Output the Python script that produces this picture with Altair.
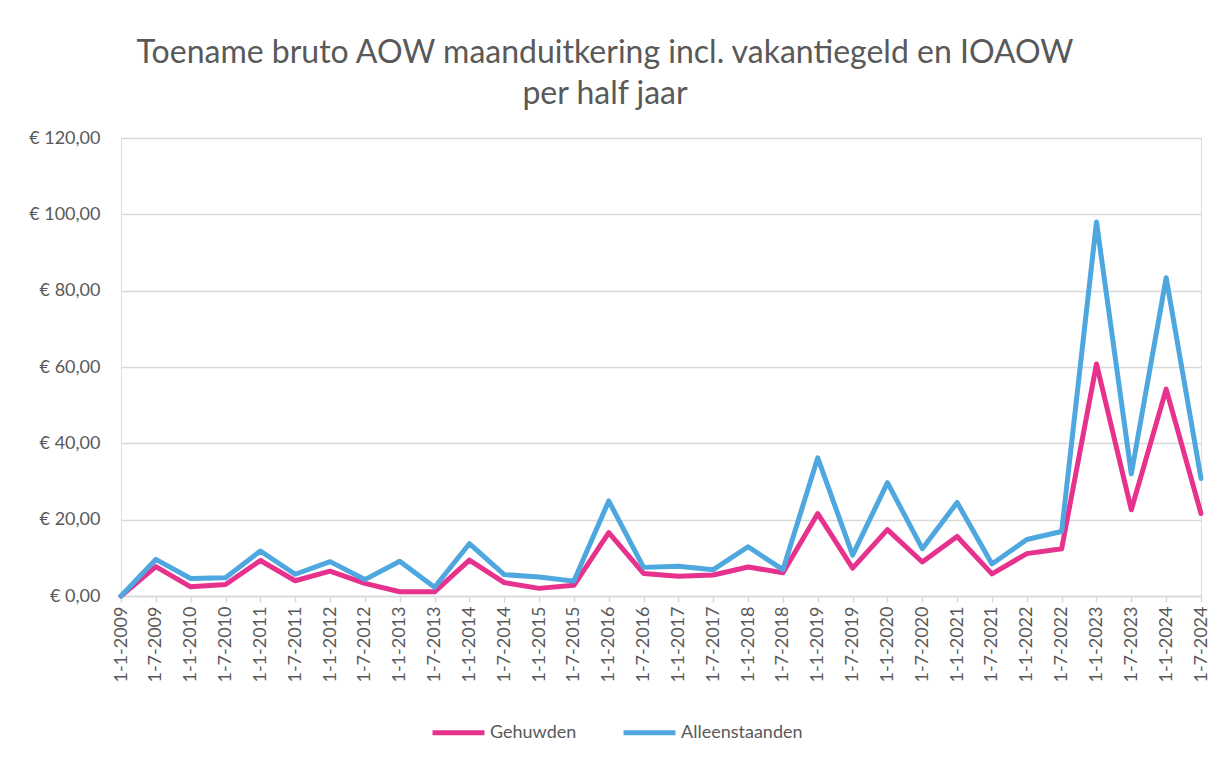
import altair as alt
import pandas as pd

dates = [
    "1-1-2009", "1-7-2009", "1-1-2010", "1-7-2010", "1-1-2011", "1-7-2011",
    "1-1-2012", "1-7-2012", "1-1-2013", "1-7-2013", "1-1-2014", "1-7-2014",
    "1-1-2015", "1-7-2015", "1-1-2016", "1-7-2016", "1-1-2017", "1-7-2017",
    "1-1-2018", "1-7-2018", "1-1-2019", "1-7-2019", "1-1-2020", "1-7-2020",
    "1-1-2021", "1-7-2021", "1-1-2022", "1-7-2022", "1-1-2023", "1-7-2023",
    "1-1-2024", "1-7-2024",
]
gehuwden = [
    0.0, 7.7, 2.4, 3.0, 9.3, 4.0, 6.5, 3.3, 1.1, 1.1, 9.4, 3.5,
    2.0, 2.8, 16.6, 5.9, 5.2, 5.5, 7.6, 6.1, 21.6, 7.3, 17.4, 8.9,
    15.6, 5.8, 11.1, 12.4, 60.8, 22.6, 54.2, 21.6,
]
alleenstaanden = [
    0.0, 9.6, 4.6, 4.8, 11.8, 5.7, 9.0, 4.3, 9.1, 2.3, 13.7, 5.6,
    5.0, 3.9, 24.9, 7.5, 7.8, 6.9, 12.9, 6.9, 36.2, 10.7, 29.7, 12.4,
    24.5, 8.4, 14.8, 16.9, 98.0, 32.0, 83.4, 30.8,
]
series = ["Gehuwden", "Alleenstaanden"]
colors = ["#E6318D", "#4EA7DE"]

rows = []
for d, g, a in zip(dates, gehuwden, alleenstaanden):
    rows.append({"datum": d, "reeks": series[0], "waarde": g})
    rows.append({"datum": d, "reeks": series[1], "waarde": a})
df = pd.DataFrame(rows)

FONT = "Lato"
GREY = "#595959"
GRID = "#D9D9D9"

chart = (
    alt.Chart(df)
    .mark_line(strokeWidth=5, strokeCap="round", strokeJoin="round")
    .encode(
        x=alt.X(
            "datum:N",
            sort=dates,
            title=None,
            scale=alt.Scale(type="point", padding=0),
            axis=alt.Axis(
                labelAngle=270,
                labelFontSize=18,
                labelColor=GREY,
                labelFont=FONT,
                labelPadding=4,
                domainColor=GRID,
                domainWidth=1.5,
                tickColor=GRID,
                tickWidth=1.5,
                tickSize=6,
                grid=False,
                labelOverlap=False,
            ),
        ),
        y=alt.Y(
            "waarde:Q",
            title=None,
            scale=alt.Scale(domain=[0, 120]),
            axis=alt.Axis(
                values=[0, 20, 40, 60, 80, 100, 120],
                labelExpr="'€ ' + replace(format(datum.value, '.2f'), '.', ',')",
                labelFontSize=18,
                labelColor=GREY,
                labelFont=FONT,
                labelPadding=21,
                domain=False,
                ticks=False,
                gridColor=GRID,
                gridWidth=1.5,
            ),
        ),
        color=alt.Color(
            "reeks:N",
            sort=series,
            scale=alt.Scale(domain=series, range=colors),
            legend=alt.Legend(
                title=None,
                orient="none",
                direction="horizontal",
                legendX=309,
                legendY=566,
                symbolType="stroke",
                symbolSize=2700,
                symbolStrokeWidth=5,
                labelFontSize=18,
                labelFont=FONT,
                labelColor=GREY,
                labelOffset=3,
                columnPadding=36,
            ),
        ),
        order=alt.Order("reeks:N", sort="descending"),
    )
    .properties(
        width=1080,
        height=458,
        title=alt.TitleParams(
            text=["Toename bruto AOW maanduitkering incl. vakantiegeld en IOAOW", "per half jaar"],
            fontSize=32,
            font=FONT,
            fontWeight="normal",
            color=GREY,
            anchor="middle",
            dx=-56,
            offset=18,
            lineHeight=41,
        ),
    )
    .configure_view(stroke=None)
    .configure(autosize=alt.AutoSizeParams(type="none"), padding={"left": 113, "top": 130, "right": 22, "bottom": 160})
)

chart.save("out.html", embed_options={"renderer": "svg", "actions": False})
